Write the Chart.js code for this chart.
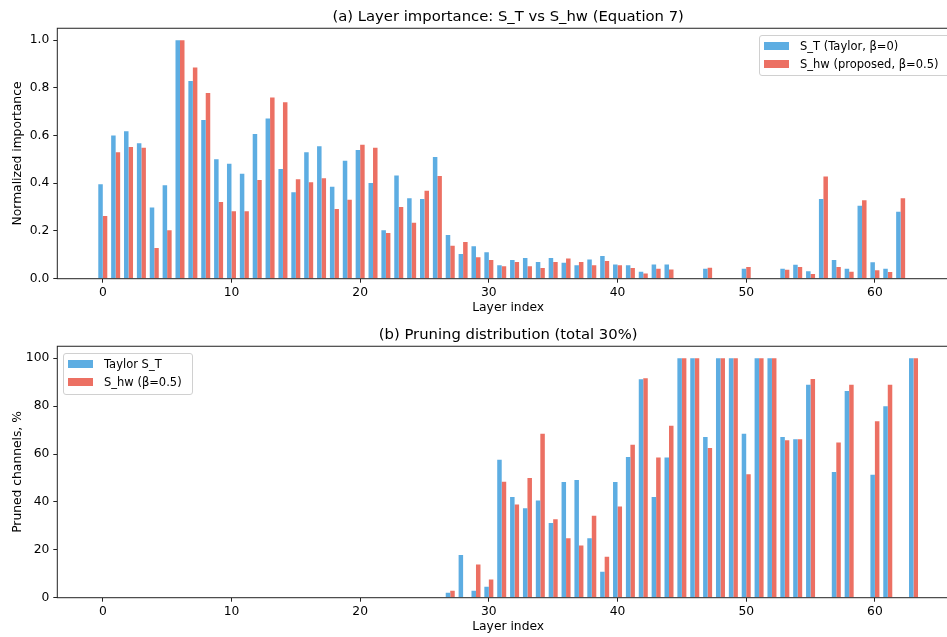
<!DOCTYPE html>
<html>
<head>
<meta charset="utf-8">
<script src="https://cdn.jsdelivr.net/npm/chart.js@4.4.1/dist/chart.umd.min.js"></script>
<style>
  body { margin: 0; background: #fff; width: 947px; height: 637px; overflow: hidden; position: relative; font-family: "DejaVu Sans", sans-serif; }
  canvas { position: absolute; left: 0; }
  .legend { position: absolute; background: rgba(255,255,255,0.8); border: 1px solid #d0d0d0; border-radius: 3px; font-size: 11.5px; color: #000; }
  .legend .row { position: absolute; left: 4px; height: 18px; display: flex; align-items: center; white-space: nowrap; }
  .legend .sw { width: 25px; height: 8px; margin-right: 11px; }
</style>
</head>
<body>
<canvas id="chartA" width="961" height="318" style="top:0"></canvas>
<canvas id="chartB" width="961" height="319" style="top:318px"></canvas>
<div id="legendA" class="legend" style="left:759px; top:35px; width:230px; height:39px;"></div>
<div id="legendB" class="legend" style="left:63px; top:353px; width:128px; height:40px;"></div>
<script>
// layer indices
const layersTop = [0,1,2,3,4,5,6,7,8,9,10,11,12,13,14,15,16,17,18,19,20,21,22,23,24,25,26,27,28,29,30,
  31,32,33,34,35,36,37,38,39,40,41,42,43,44,45,46,47,48,49,50,51,52,53,54,55,56,57,58,59,60,61,62];
const layersBottom = [0,1,2,3,4,5,6,7,8,9,10,11,12,13,14,15,16,17,18,19,20,21,22,23,24,25,26,27,28,29,30,
  31,32,33,34,35,36,37,38,39,40,41,42,43,44,45,46,47,48,49,50,51,52,53,54,55,56,57,58,59,60,61,62,63];

// (a) normalized importance
const importanceT = [0.396,0.600,0.618,0.568,0.299,0.392,1.0,0.829,0.665,0.501,
  0.482,0.440,0.607,0.672,0.460,0.362,0.530,0.555,0.385,0.495,
  0.540,0.401,0.203,0.433,0.337,0.334,0.510,0.183,0.104,0.136,
  0.111,0.056,0.078,0.087,0.070,0.087,0.067,0.056,0.081,0.095,
  0.060,0.056,0.029,0.060,0.060,0,0,0.042,0,0,
  0.042,0,0,0.042,0.059,0.031,0.334,0.078,0.042,0.306,
  0.069,0.042,0.281];
const importanceHw = [0.263,0.530,0.552,0.549,0.129,0.203,1.0,0.886,0.779,0.322,
  0.283,0.283,0.414,0.760,0.740,0.417,0.404,0.421,0.292,0.331,
  0.562,0.549,0.192,0.301,0.235,0.369,0.431,0.138,0.154,0.090,
  0.078,0.052,0.070,0.052,0.045,0.070,0.085,0.070,0.056,0.074,
  0.056,0.045,0.022,0.042,0.039,0,0,0.046,0,0,
  0.049,0,0,0.038,0.049,0.020,0.429,0.049,0.029,0.329,
  0.035,0.028,0.337];

// (b) pruned channels, %
const prunedT = [0,0,0,0,0,0,0,0,0,0, 0,0,0,0,0,0,0,0,0,0, 0,0,0,0,0,0,0,2.1,17.8,2.9,
  4.6,57.6,42.1,37.4,40.6,31.2,48.3,49.2,24.8,10.8,
  48.3,58.8,91.2,42.1,58.5,100,100,67.1,100,100,
  68.5,100,100,67.1,66.2,88.9,0,52.5,86.3,0,
  51.3,80.0,0,100];
const prunedHw = [0,0,0,0,0,0,0,0,0,0, 0,0,0,0,0,0,0,0,0,0, 0,0,0,0,0,0,0,2.9,0,13.9,
  7.6,48.4,38.9,50.0,68.5,32.8,24.8,21.8,34.2,17.1,
  38.1,63.9,91.6,58.5,71.8,100,100,62.5,100,100,
  51.5,100,100,65.7,66.2,91.3,0,64.8,88.9,0,
  73.7,88.9,0,100];

const xTicks = [0,10,20,30,40,50,60];
const yTicksTop = [0,0.2,0.4,0.6,0.8,1.0];
const yTicksBottom = [0,20,40,60,80,100];

const BLUE = "#5DADE2";
const RED = "#EC7063";
const FONT = "'DejaVu Sans', sans-serif";
const INK = "#000";

// matplotlib-like box around the axes, title centred over the axes
const framePlugin = {
  id: "frame",
  afterLayout(chart) {
    if (chart.titleBlock) {
      chart.titleBlock.left = chart.chartArea.left;
      chart.titleBlock.right = chart.chartArea.right;
      chart.titleBlock.width = chart.chartArea.right - chart.chartArea.left;
    }
  },
  afterDatasetsDraw(chart) {
    const { ctx, chartArea: a } = chart;
    ctx.save();
    ctx.strokeStyle = "#222";
    ctx.lineWidth = 1;
    ctx.strokeRect(a.left, a.top, a.right - a.left, a.bottom - a.top);
    ctx.restore();
  }
};

function makeChart(id, cfg) {
  const data = {
    datasets: [
      { label: cfg.labels[0], data: cfg.layers.map((l, i) => ({ x: l, y: cfg.a[i] })), backgroundColor: BLUE },
      { label: cfg.labels[1], data: cfg.layers.map((l, i) => ({ x: l, y: cfg.b[i] })), backgroundColor: RED }
    ]
  };
  return new Chart(document.getElementById(id), {
    type: "bar",
    data: data,
    plugins: [framePlugin],
    options: {
      responsive: false,
      animation: false,
      categoryPercentage: 0.7,
      barPercentage: 1.0,
      borderWidth: 0,
      layout: { padding: { left: 0, right: 2, top: 0, bottom: 0 } },
      plugins: {
        legend: { display: false },
        tooltip: { enabled: false },
        title: {
          display: true,
          text: cfg.title,
          color: INK,
          font: { family: FONT, size: 14.8, weight: "normal" },
          padding: { top: 8.5, bottom: 2 }
        }
      },
      scales: {
        x: {
          type: "linear",
          min: -3.535,
          max: 66.535,
          offset: false,
          afterFit: (s) => { s.height = 39.3; },
          afterBuildTicks: (s) => { s.ticks = xTicks.map((v) => ({ value: v })); },
          grid: { display: true, drawOnChartArea: false, drawTicks: true, tickLength: 4, color: "#222", offset: false },
          border: { display: false },
          ticks: { color: INK, font: { family: FONT, size: 12.3 }, padding: 3, maxRotation: 0 },
          title: { display: true, text: "Layer index", color: INK, font: { family: FONT, size: 12.3 }, padding: { top: 0, bottom: 3 } }
        },
        y: {
          min: 0,
          max: cfg.yMax,
          afterFit: (s) => { s.width = 57.3; },
          afterBuildTicks: (s) => { s.ticks = cfg.yTicks.map((v) => ({ value: v })); },
          grid: { display: true, drawOnChartArea: false, drawTicks: true, tickLength: 4, color: "#222" },
          border: { display: false },
          ticks: { color: INK, font: { family: FONT, size: 12.3 }, padding: 4, callback: cfg.yFmt },
          title: { display: true, text: cfg.yTitle, color: INK, font: { family: FONT, size: 12.3 }, padding: { top: 10.6, bottom: 0 } }
        }
      }
    }
  });
}

const chartA = makeChart("chartA", {
  title: "(a) Layer importance: S_T vs S_hw (Equation 7)",
  labels: ["S_T (Taylor, β=0)", "S_hw (proposed, β=0.5)"],
  layers: layersTop, a: importanceT, b: importanceHw,
  yMax: 1.05, yTicks: yTicksTop, yTitle: "Normalized importance",
  yFmt: (v) => Number(v).toFixed(1)
});

const chartB = makeChart("chartB", {
  title: "(b) Pruning distribution (total 30%)",
  labels: ["Taylor S_T", "S_hw (β=0.5)"],
  layers: layersBottom, a: prunedT, b: prunedHw,
  yMax: 105, yTicks: yTicksBottom, yTitle: "Pruned channels, %",
  yFmt: (v) => String(v)
});

// legends built from the chart datasets
function fillLegend(chart, id) {
  const box = document.getElementById(id);
  chart.data.datasets.forEach((ds, i) => {
    const row = document.createElement("div");
    row.className = "row";
    row.style.top = (1 + i * 18.4) + "px";
    row.innerHTML = '<span class="sw" style="background:' + ds.backgroundColor + '"></span><span>' + ds.label + "</span>";
    box.appendChild(row);
  });
}
fillLegend(chartA, "legendA");
fillLegend(chartB, "legendB");
</script>
</body>
</html>
